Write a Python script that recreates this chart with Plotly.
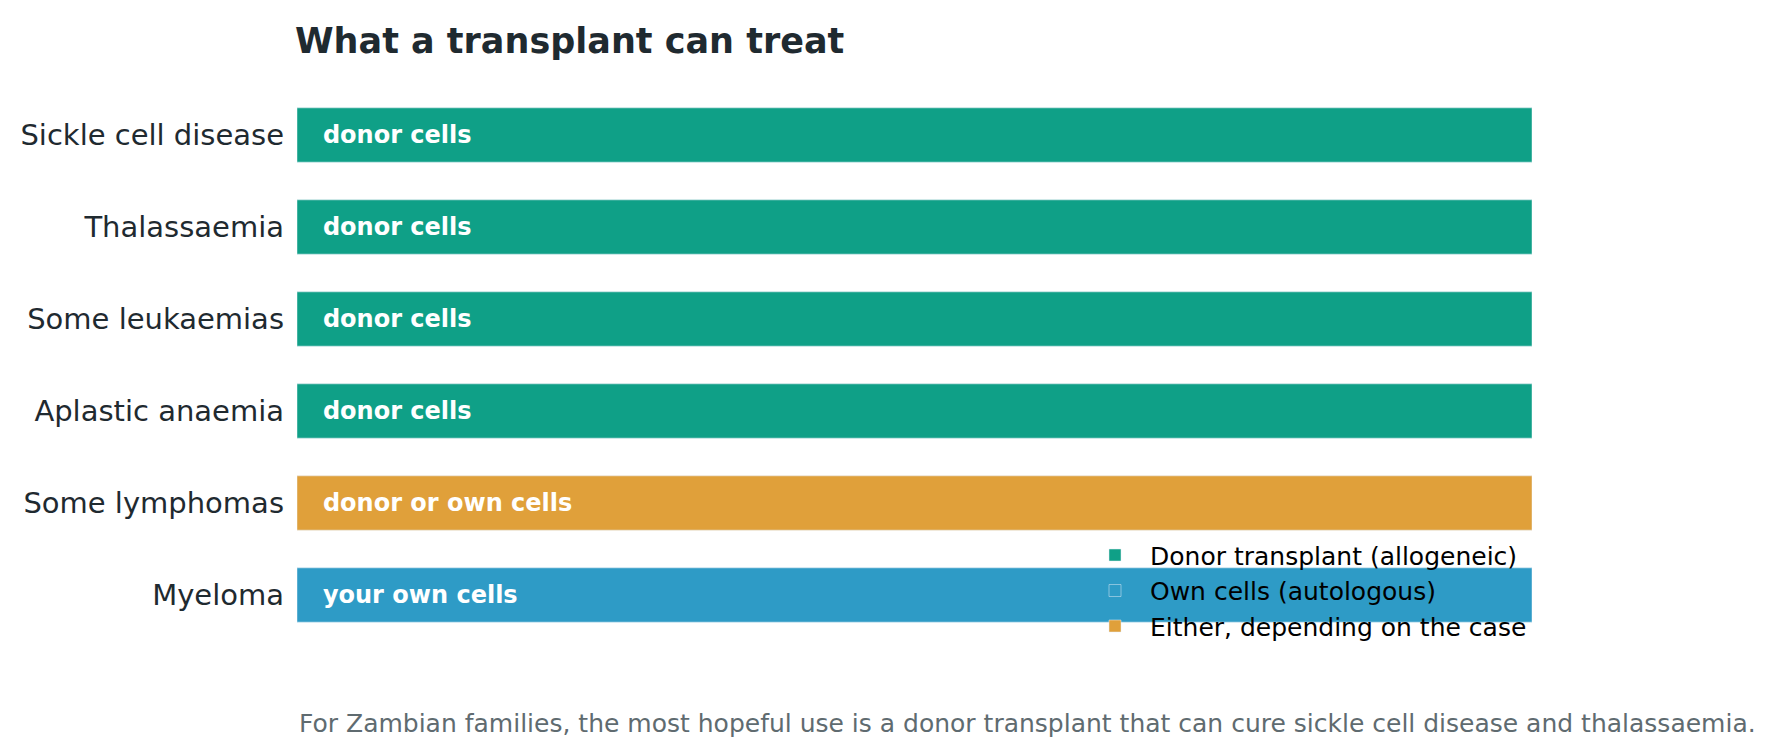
import plotly.graph_objects as go

conditions = ["Sickle cell disease", "Thalassaemia", "Some leukaemias", "Aplastic anaemia", "Some lymphomas", "Myeloma"]
types = ["donor", "donor", "donor", "donor", "either", "own"]
bar_labels = ["donor cells", "donor cells", "donor cells", "donor cells", "donor or own cells", "your own cells"]
values = [1, 1, 1, 1, 1, 1]
groups = [("donor", "Donor transplant (allogeneic)", "#0fa087"),
          ("own", "Own cells (autologous)", "#2e9bc6"),
          ("either", "Either, depending on the case", "#e0a03a")]

fig = go.Figure()
for key, name, color in groups:
    idx = [i for i, t in enumerate(types) if t == key]
    fig.add_trace(go.Bar(
        y=[conditions[i] for i in idx], x=[values[i] for i in idx],
        orientation="h", name=name, marker_color=color, width=0.59,
        text=[bar_labels[i] for i in idx], textposition="inside",
        insidetextanchor="start",
        textfont=dict(color="white", size=24, family="DejaVu Sans"),
        texttemplate="   <b>%{text}</b>", hoverinfo="skip"))

fig.update_layout(
    width=1771, height=749, plot_bgcolor="white", paper_bgcolor="white",
    margin=dict(l=287, r=247, t=81, b=116),
    barmode="overlay", uniformtext=dict(mode="show", minsize=10),
    font=dict(family="DejaVu Sans", color="#1f2a30"),
    title=dict(text="<b>What a transplant can treat</b>", x=287/1771, xanchor="left",
               y=1-33/749, yanchor="middle", font=dict(size=35, color="#1f2a30")),
    legend=dict(x=1, xanchor="right", y=-0.015, yanchor="bottom", bgcolor="rgba(0,0,0,0)",
                font=dict(size=25, color="black", family="DejaVu Sans"), traceorder="normal",
                itemwidth=60),
    xaxis=dict(range=[0, 1], visible=False),
    yaxis=dict(categoryorder="array", categoryarray=conditions, autorange="reversed",
               tickfont=dict(size=29, color="#1f2a30"), ticks="", showline=False,
               showgrid=False, ticklabelstandoff=12),
    annotations=[dict(text="For Zambian families, the most hopeful use is a donor transplant that can cure sickle cell disease and thalassaemia.",
                      xref="paper", yref="paper", x=0, xanchor="left",
                      y=-(716 - 633) / 552, yanchor="middle", showarrow=False,
                      font=dict(size=25, color="#5f6b70"))]
)
fig.write_html("out.html")
